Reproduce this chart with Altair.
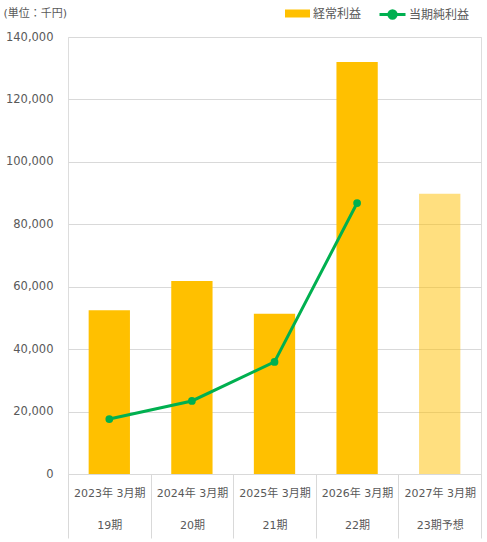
import altair as alt
import pandas as pd

years = ["2023年 3月期", "2024年 3月期", "2025年 3月期", "2026年 3月期", "2027年 3月期"]
periods = ["19期", "20期", "21期", "22期", "23期予想"]
ordinary_profit = [52500, 61800, 51300, 132000, 89800]
net_profit = [17600, 23400, 35900, 86800, None]
forecast = [False, False, False, False, True]
y_ticks = [0, 20000, 40000, 60000, 80000, 100000, 120000, 140000]

df = pd.DataFrame({
    "label": [f"{y}|{p}" for y, p in zip(years, periods)],
    "ordinary": ordinary_profit,
    "net": net_profit,
    "forecast": forecast,
    "s1": "経常利益",
    "s2": "当期純利益",
})

FONT = "DejaVu Sans, Noto Sans CJK JP"
GRAY = "#595959"
GRID = "#d9d9d9"

x_enc = alt.X(
    "label:N", sort=None,
    scale=alt.Scale(paddingInner=0, paddingOuter=0),
    axis=alt.Axis(
        title=None,
        labelExpr="isValid(datum.value) ? split(datum.value, '|') : ''",
        labelAngle=0,
        tickBand="extent", tickSize=64, tickColor=GRID, domainColor=GRID,
        labelPadding=-51, labelLineHeight=32, labelFontSize=11,
        labelColor=GRAY, labelFont=FONT, grid=False, labelBaseline="top",
    ),
)

y_axis = alt.Axis(
    values=y_ticks, format=",d", domain=False, ticks=False, labelPadding=15,
    gridColor=GRID, labelColor=GRAY, labelFontSize=11.5, labelFont=FONT,
    title="(単位：千円)", titleAngle=0, titleAlign="left", titleBaseline="middle",
    titleX=-65, titleY=-24, titleFontWeight="normal", titleFontSize=11,
    titleColor=GRAY, titleFont=FONT,
)

base = alt.Chart(df)

bars = base.mark_bar(width={"band": 0.5}).encode(
    x=x_enc,
    y=alt.Y("ordinary:Q", scale=alt.Scale(domain=[0, 140000]), axis=y_axis),
    fill=alt.Fill("s1:N", scale=alt.Scale(range=["#FFC000"]), legend=alt.Legend(
        title=None, orient="none", legendX=217, legendY=-36,
        symbolType="M-1,-0.32H1V0.32H-1Z", symbolSize=625, symbolStrokeWidth=0,
        labelOffset=3, labelFontSize=12, labelColor=GRAY, labelFont=FONT,
    )),
    opacity=alt.condition("datum.forecast", alt.value(0.5), alt.value(1)),
)

line = base.transform_filter("isValid(datum.net)").mark_line(strokeWidth=3).encode(
    x=alt.X("label:N", sort=None),
    y=alt.Y("net:Q"),
    stroke=alt.Stroke("s2:N", scale=alt.Scale(range=["#00B050"]), legend=alt.Legend(
        title=None, orient="none", legendX=310, legendY=-37,
        symbolType="M-1,0H1M0.28,0A0.28,0.28 0 1,1 -0.28,0A0.28,0.28 0 1,1 0.28,0",
        symbolSize=676, symbolStrokeWidth=3, symbolFillColor="#00B050",
        labelOffset=2, labelFontSize=12, labelColor=GRAY, labelFont=FONT,
    )),
)

points = base.transform_filter("isValid(datum.net)").mark_circle(size=60, opacity=1, color="#00B050").encode(
    x=alt.X("label:N", sort=None),
    y=alt.Y("net:Q"),
)

chart = alt.layer(bars, line, points).properties(
    width=413, height=437,
    autosize=alt.AutoSizeParams(type="none"),
    padding={"left": 68, "top": 37, "right": 6, "bottom": 68},
).configure_view(stroke=None).configure(font=FONT)

chart.save("out.html", embed_options={"renderer": "svg", "actions": False})
